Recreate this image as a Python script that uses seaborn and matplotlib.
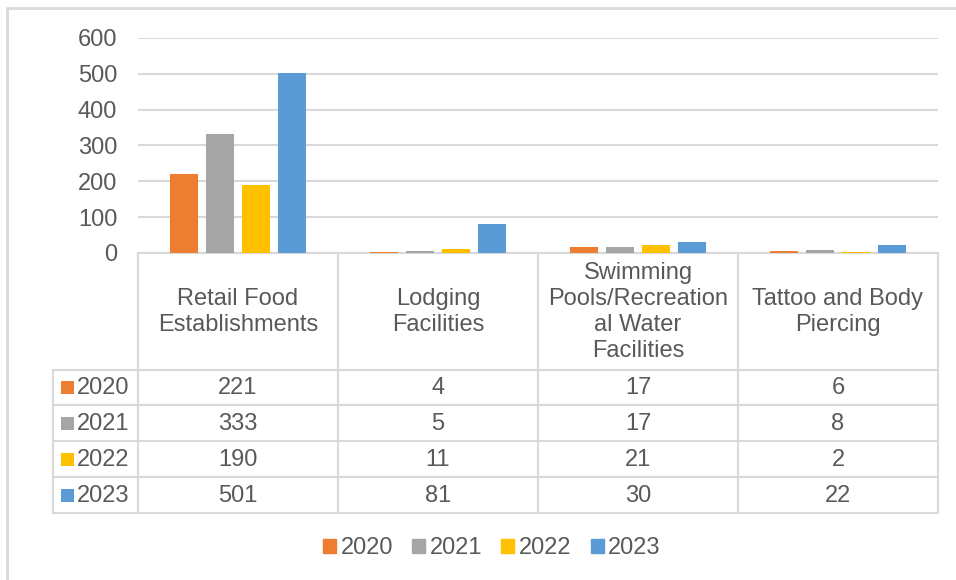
import matplotlib
matplotlib.use("Agg")
import matplotlib.pyplot as plt
import seaborn as sns
import pandas as pd
from matplotlib.patches import Patch

categories = ["Retail Food\nEstablishments", "Lodging\nFacilities",
              "Swimming\nPools/Recreation\nal Water\nFacilities",
              "Tattoo and Body\nPiercing"]
years = ["2020", "2021", "2022", "2023"]
v2020 = [221, 4, 17, 6]
v2021 = [333, 5, 17, 8]
v2022 = [190, 11, 21, 2]
v2023 = [501, 81, 30, 22]
colors = ["#ED7D31", "#A5A5A5", "#FFC000", "#5B9BD5"]
yticks = [0, 100, 200, 300, 400, 500, 600]

series = [v2020, v2021, v2022, v2023]
rows = []
for y, vals in zip(years, series):
    for c, v in zip(categories, vals):
        rows.append({"category": c, "year": y, "value": v})
df = pd.DataFrame(rows)

sns.set_theme(style="white")
plt.rcParams["font.family"] = ["Liberation Sans", "DejaVu Sans"]
TXT = "#595959"
GRID = "#D9D9D9"
FS = 17
W, H = 956, 580
fig = plt.figure(figsize=(W / 100, H / 100), dpi=100)

# overlay axes in pixel coordinates for table/borders
ov = fig.add_axes([0, 0, 1, 1])
ov.set_xlim(0, W)
ov.set_ylim(H, 0)
ov.axis("off")

L, R, T, B = 138, 938, 38, 253
ax = fig.add_axes([L / W, 1 - B / H, (R - L) / W, (B - T) / H])
sns.barplot(data=df, x="category", y="value", hue="year", palette=colors,
            width=0.72, gap=0.22, ax=ax, legend=False, saturation=1)
ax.set_ylim(0, 600)
ax.set_xlim(-0.5, 3.5)
ax.set_yticks(yticks)
ax.set_yticklabels([str(t) for t in yticks], fontsize=FS, color=TXT)
ax.tick_params(axis="y", length=0, pad=15)
ax.set_xticks([])
ax.set_xlabel("")
ax.set_ylabel("")
for s in ax.spines.values():
    s.set_visible(False)
ax.grid(axis="y", color=GRID, lw=1.5)
ax.set_axisbelow(True)
ax.patch.set_alpha(0)
for p in ax.patches:
    p.set_linewidth(0)

lw = 1.5
# outer border
ov.plot([7, 7], [8, H], color=GRID, lw=2)
ov.plot([7, W], [8, 8], color=GRID, lw=2)

# table lines
colx = [138, 338, 538, 738, 938]
rowy = [370, 405, 441, 477, 513]
ov.plot([138, 938], [253, 253], color=GRID, lw=lw)
for x in colx:
    ov.plot([x, x], [253, 513], color=GRID, lw=lw)
ov.plot([53, 53], [370, 513], color=GRID, lw=lw)
for y in rowy:
    ov.plot([53, 938], [y, y], color=GRID, lw=lw)

# header labels
for i, c in enumerate(categories):
    ov.text((colx[i] + colx[i + 1]) / 2, 312, c, ha="center", va="center",
            fontsize=FS, color=TXT, linespacing=1.24)

# rows
for r, (yr, vals, col) in enumerate(zip(years, series, colors)):
    yc = (rowy[r] + rowy[r + 1]) / 2
    ov.add_patch(plt.Rectangle((61, yc - 6.5), 13, 13, color=col, lw=0))
    ov.text(77, yc + 1, yr, ha="left", va="center", fontsize=FS, color=TXT)
    for i, v in enumerate(vals):
        ov.text((colx[i] + colx[i + 1]) / 2, yc + 1, str(v), ha="center",
                va="center", fontsize=FS, color=TXT)

handles = [Patch(color=c, label=y) for c, y in zip(colors, years)]
fig.legend(handles=handles, loc="center", bbox_to_anchor=(492 / W, 1 - 548 / H),
           ncol=4, frameon=False, fontsize=FS, handlelength=0.55,
           handleheight=0.55, handletextpad=0.2, columnspacing=0.8,
           labelcolor=TXT)

fig.savefig("out.png", dpi=100)
